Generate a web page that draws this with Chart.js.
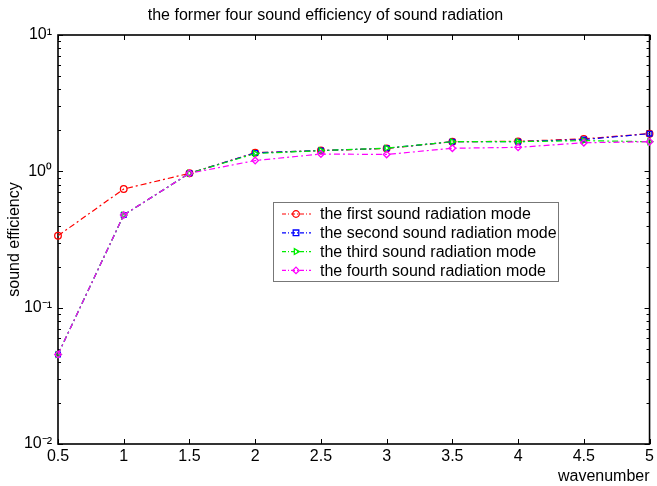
<!DOCTYPE html>
<html><head><meta charset="utf-8">
<script src="https://cdn.jsdelivr.net/npm/chart.js@4/dist/chart.umd.min.js"></script>
<style>html,body{margin:0;padding:0;background:#fff}#wrap{width:657px;height:486px}</style>
</head><body><div id="wrap"><canvas id="c" width="657" height="486"></canvas></div>
<script>
const wavenumbers = [0.5, 1, 1.5, 2, 2.5, 3, 3.5, 4, 4.5, 5];
const firstMode  = [0.337, 0.742, 0.967, 1.37, 1.42, 1.47, 1.65, 1.66, 1.73, 1.89];
const secondMode = [0.0454, 0.478, 0.967, 1.365, 1.42, 1.476, 1.65, 1.65, 1.71, 1.89];
const thirdMode  = [0.0454, 0.478, 0.967, 1.35, 1.42, 1.48, 1.65, 1.65, 1.68, 1.65];
const fourthMode = [0.0454, 0.478, 0.967, 1.20, 1.34, 1.33, 1.476, 1.50, 1.62, 1.65];
const seriesLabels = ['the first sound radiation mode', 'the second sound radiation mode', 'the third sound radiation mode', 'the fourth sound radiation mode'];
const xTickValues = [0.5, 1, 1.5, 2, 2.5, 3, 3.5, 4, 4.5, 5];
const xTickLabels = ['0.5', '1', '1.5', '2', '2.5', '3', '3.5', '4', '4.5', '5'];
const yTickValues = [0.01, 0.1, 1, 10];
const yTickLabels = ['10\u207B\u00B2', '10\u207B\u00B9', '10\u2070', '10\u00B9'];
const chartTitle = 'the former four sound efficiency of sound radiation';
const xTitle = 'wavenumber';
const yTitle = 'sound efficiency';

const FONT = '"Liberation Sans", Arial, Helvetica, sans-serif';
const colors = ['#ff0000', '#0000ff', '#00ee00', '#ff00ff'];
const styles = ['circle', 'rect', 'triangle', 'rectRot'];
const rotations = [0, 0, 90, 0];
const seriesValues = [firstMode, secondMode, thirdMode, fourthMode];

function pts(vals){ return wavenumbers.map((x,i)=>({x:x, y:vals[i]})); }

const datasets = seriesValues.map((vals, i) => ({
  label: seriesLabels[i],
  data: pts(vals),
  borderColor: colors[i],
  backgroundColor: colors[i],
  borderWidth: 1.2,
  borderDash: [6,3,2,3],
  pointStyle: styles[i],
  pointRotation: rotations[i],
  pointRadius: 3.3,
  pointBorderWidth: 1.3,
  pointBorderColor: colors[i],
  pointBackgroundColor: 'rgba(0,0,0,0)',
  tension: 0,
  clip: false,
  order: 3 - i
}));

function drawMarker(ctx, style, x, y, r, rot){
  ctx.save();
  ctx.translate(x, y);
  ctx.rotate(rot*Math.PI/180);
  ctx.beginPath();
  if (style === 'circle') { ctx.arc(0,0,r,0,Math.PI*2); }
  else if (style === 'rect') { const s = r*0.85; ctx.rect(-s,-s,2*s,2*s); }
  else if (style === 'triangle') { ctx.moveTo(0,-r); ctx.lineTo(r*0.87, r*0.5); ctx.lineTo(-r*0.87, r*0.5); ctx.closePath(); }
  else if (style === 'rectRot') { ctx.moveTo(0,-r); ctx.lineTo(r,0); ctx.lineTo(0,r); ctx.lineTo(-r,0); ctx.closePath(); }
  ctx.stroke();
  ctx.restore();
}

const framePlugin = {
  id: 'frame',
  beforeDatasetsDraw(chart){
    const {ctx, chartArea: a, scales} = chart;
    const xs = scales.x, ys = scales.y;
    ctx.save();
    ctx.strokeStyle = '#000';
    ctx.lineWidth = 1.6;
    ctx.setLineDash([]);
    ctx.strokeRect(a.left, a.top, a.right - a.left, a.bottom - a.top);
    ctx.lineWidth = 1;
    ctx.beginPath();
    xTickValues.forEach(v => {
      const px = Math.round(xs.getPixelForValue(v)) + 0.5;
      ctx.moveTo(px, a.bottom); ctx.lineTo(px, a.bottom - 5);
      ctx.moveTo(px, a.top); ctx.lineTo(px, a.top + 5);
    });
    yTickValues.forEach(v => {
      const py = Math.round(ys.getPixelForValue(v)) + 0.5;
      ctx.moveTo(a.left, py); ctx.lineTo(a.left + 5, py);
      ctx.moveTo(a.right, py); ctx.lineTo(a.right - 5, py);
    });
    for (let d = 0; d < yTickValues.length - 1; d++) {
      for (let k = 2; k <= 9; k++) {
        const py = Math.round(ys.getPixelForValue(yTickValues[d]*k)) + 0.5;
        ctx.moveTo(a.left, py); ctx.lineTo(a.left + 3, py);
        ctx.moveTo(a.right, py); ctx.lineTo(a.right - 3, py);
      }
    }
    ctx.stroke();
    ctx.restore();
  }
};

const legendPlugin = {
  id: 'boxLegend',
  afterDatasetsDraw(chart){
    const ctx = chart.ctx;
    const bx = 273, by = 202, bw = 285, bh = 79;
    ctx.save();
    ctx.fillStyle = '#fff';
    ctx.fillRect(bx, by, bw, bh);
    ctx.strokeStyle = '#777';
    ctx.lineWidth = 1;
    ctx.setLineDash([]);
    ctx.strokeRect(bx + 0.5, by + 0.5, bw, bh);
    ctx.font = '16px ' + FONT;
    ctx.textBaseline = 'middle';
    ctx.textAlign = 'left';
    chart.data.datasets.forEach((ds, i) => {
      const y = 214 + i * 18.8;
      ctx.strokeStyle = ds.borderColor;
      ctx.lineWidth = 1.2;
      ctx.setLineDash([4,2,1,2]);
      ctx.beginPath(); ctx.moveTo(282, y); ctx.lineTo(311, y); ctx.stroke();
      ctx.setLineDash([]);
      ctx.lineWidth = 1.3;
      drawMarker(ctx, ds.pointStyle, 296, y, 3.3, ds.pointRotation || 0);
      ctx.fillStyle = '#000';
      ctx.fillText(ds.label, 320, y + 1);
    });
    ctx.restore();
  }
};

new Chart(document.getElementById('c'), {
  type: 'line',
  data: { datasets: datasets },
  options: {
    responsive: false,
    animation: false,
    devicePixelRatio: 1,
    layout: { padding: { left: 0, right: 6, top: 0, bottom: 0 } },
    plugins: {
      legend: { display: false },
      tooltip: { enabled: false },
      title: {
        display: true, text: chartTitle, color: '#000',
        font: { family: FONT, size: 16, weight: 'normal' },
        padding: { top: 6, bottom: 9.8 }
      }
    },
    scales: {
      x: {
        type: 'linear', min: 0.5, max: 5,
        afterBuildTicks: s => { s.ticks = xTickValues.map(v => ({ value: v })); },
        afterFit: s => { s.height = 42; },
        grid: { display: false, drawTicks: false },
        border: { display: false },
        ticks: {
          color: '#000', font: { family: FONT, size: 16 }, padding: 3, maxRotation: 0, autoSkip: false,
          callback: v => { const i = xTickValues.indexOf(v); return i >= 0 ? xTickLabels[i] : ''; }
        },
        title: { display: true, text: xTitle, align: 'end', color: '#000', font: { family: FONT, size: 16 }, padding: { top: 0, bottom: 0 } }
      },
      y: {
        type: 'logarithmic', min: 0.01, max: 10,
        afterBuildTicks: s => { s.ticks = yTickValues.map(v => ({ value: v, major: true })); },
        afterFit: s => { s.width = 58; },
        grid: { display: false, drawTicks: false },
        border: { display: false },
        ticks: {
          color: '#000', font: { family: FONT, size: 16 }, padding: 6, autoSkip: false,
          callback: v => { const i = yTickValues.indexOf(v); return i >= 0 ? yTickLabels[i] : ''; }
        },
        title: { display: true, text: yTitle, color: '#000', font: { family: FONT, size: 16 }, padding: { top: 5, bottom: 0 } }
      }
    }
  },
  plugins: [framePlugin, legendPlugin]
});
</script>
</body></html>
